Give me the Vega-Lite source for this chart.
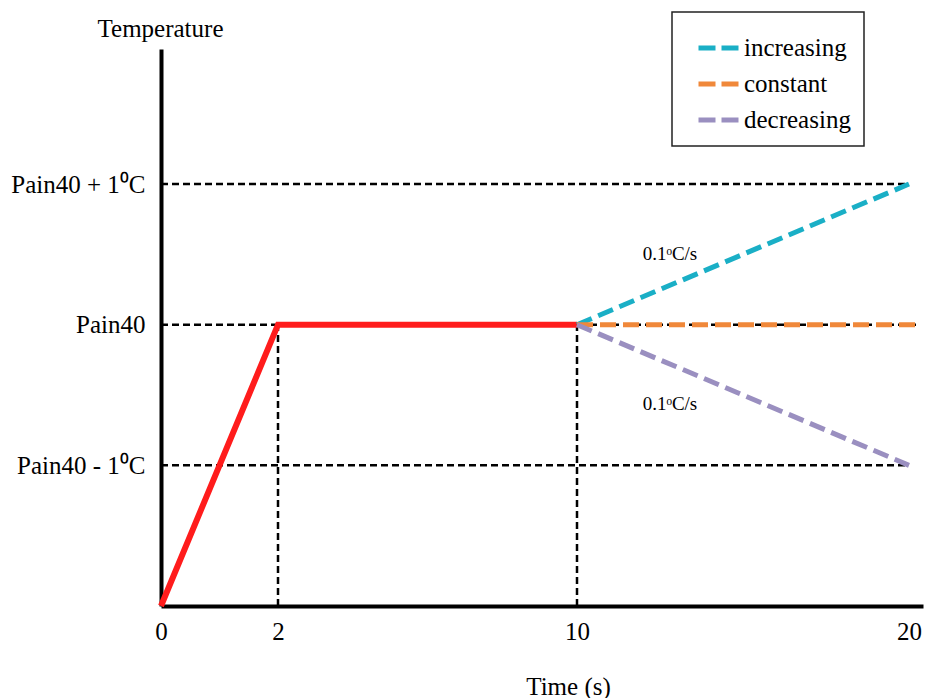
{
  "$schema": "https://vega.github.io/schema/vega-lite/v6.json",
  "autosize": "none",
  "width": 762,
  "height": 557,
  "padding": {"left": 161, "top": 49, "right": 6, "bottom": 92},
  "background": "white",
  "config": {
    "view": {"stroke": null},
    "font": "Liberation Serif",
    "style": {
      "guide-label": {"font": "Liberation Serif", "fill": "black"},
      "guide-title": {"font": "Liberation Serif", "fill": "black", "fontWeight": "normal"}
    },
    "axis": {"grid": false, "ticks": false, "tickSize": 0, "domainColor": "black", "domainWidth": 4, "labelColor": "black", "titleColor": "black", "labelFont": "Liberation Serif", "titleFont": "Liberation Serif", "titleFontWeight": "normal", "labelFontSize": 25, "titleFontSize": 25},
    "legend": {"labelFont": "Liberation Serif"}
  },
  "datasets": {
    "hguides": [
      {"x0": 0, "x1": 20, "level": 3},
      {"x0": 0, "x1": 20.2, "level": 2},
      {"x0": 0, "x1": 20, "level": 1}
    ],
    "vguides": [
      {"t": 2, "y0": 0, "y1": 2},
      {"t": 10, "y0": 0, "y1": 2}
    ],
    "ramp": [
      {"t": 0, "temp": 0},
      {"t": 2, "temp": 2},
      {"t": 10, "temp": 2}
    ],
    "series": [
      {"series": "increasing", "t": 10, "temp": 2},
      {"series": "increasing", "t": 20, "temp": 3},
      {"series": "constant", "t": 10, "temp": 2},
      {"series": "constant", "t": 20.2, "temp": 2},
      {"series": "decreasing", "t": 10, "temp": 2},
      {"series": "decreasing", "t": 20, "temp": 1}
    ],
    "notes": [
      {"t": 12.8, "temp": 2.5, "label": "0.1ᵒC/s"},
      {"t": 12.8, "temp": 1.435, "label": "0.1ᵒC/s"}
    ]
  },
  "layer": [
    {
      "data": {"name": "hguides"},
      "mark": {"type": "rule", "color": "black", "strokeWidth": 2.5, "strokeDash": [7, 4]},
      "encoding": {
        "x": {"field": "x0", "type": "quantitative", "scale": {"domain": [0, 2, 10, 20, 20.4], "range": [0, 117, 416, 748, 762], "nice": false, "zero": false},
          "axis": {"values": [0, 2, 10, 20], "format": "d", "labelFlush": false, "labelOverlap": false, "labelPadding": 13, "labelFont": "Liberation Serif", "labelFontSize": 25, "title": "Time (s)", "titleX": 407, "titleY": 88, "titleBaseline": "alphabetic", "titleAnchor": null,
            "encode": {"labels": {"update": {"font": {"value": "Liberation Serif"}}}}}},
        "x2": {"field": "x1"},
        "y": {"field": "level", "type": "quantitative", "scale": {"domain": [0, 3.96], "nice": false, "zero": false},
          "axis": {"values": [1, 2, 3], "labelPadding": 16, "labelFont": "Liberation Serif", "labelFontSize": 25, "labelExpr": "datum.value == 3 ? 'Pain40 + 1⁰C' : datum.value == 2 ? 'Pain40' : 'Pain40 - 1⁰C'", "title": "Temperature", "titleAngle": 0, "titleX": -1, "titleY": -13, "titleAlign": "center", "titleBaseline": "alphabetic", "titleAnchor": null,
            "encode": {"labels": {"update": {"font": {"value": "Liberation Serif"}}}}}}
      }
    },
    {
      "data": {"name": "vguides"},
      "mark": {"type": "rule", "color": "black", "strokeWidth": 2.5, "strokeDash": [7, 4]},
      "encoding": {
        "x": {"field": "t", "type": "quantitative"},
        "y": {"field": "y0", "type": "quantitative"},
        "y2": {"field": "y1"}
      }
    },
    {
      "data": {"name": "ramp"},
      "mark": {"type": "line", "color": "#ff1c1c", "strokeWidth": 6, "strokeJoin": "miter", "strokeCap": "butt"},
      "encoding": {
        "x": {"field": "t", "type": "quantitative"},
        "y": {"field": "temp", "type": "quantitative"},
        "order": {"field": "t"}
      }
    },
    {
      "data": {"name": "series"},
      "mark": {"type": "line", "strokeWidth": 5, "strokeDash": [16, 7]},
      "encoding": {
        "x": {"field": "t", "type": "quantitative"},
        "y": {"field": "temp", "type": "quantitative"},
        "order": {"field": "t"},
        "color": {"field": "series", "type": "nominal",
          "scale": {"domain": ["increasing", "constant", "decreasing"], "range": ["#1aafc6", "#f0883a", "#9a8fc0"]},
          "legend": {"orient": "none", "legendX": 511, "legendY": -37, "title": null, "symbolType": "stroke", "symbolStrokeWidth": 5, "symbolSize": 1681, "symbolDash": [17, 6], "symbolOffset": 11, "labelFont": "Liberation Serif", "labelFontSize": 25, "labelColor": "black", "labelOffset": 2, "padding": 13, "rowPadding": -9, "strokeColor": "#222",
            "encode": {"legend": {"update": {"strokeWidth": {"value": 1.5}}}, "labels": {"update": {"font": {"value": "Liberation Serif"}}}}}
        }
      }
    },
    {
      "data": {"name": "notes"},
      "mark": {"type": "text", "font": "Liberation Serif", "fontSize": 19, "color": "black", "align": "center", "baseline": "middle"},
      "encoding": {
        "x": {"field": "t", "type": "quantitative"},
        "y": {"field": "temp", "type": "quantitative"},
        "text": {"field": "label"}
      }
    }
  ]
}
